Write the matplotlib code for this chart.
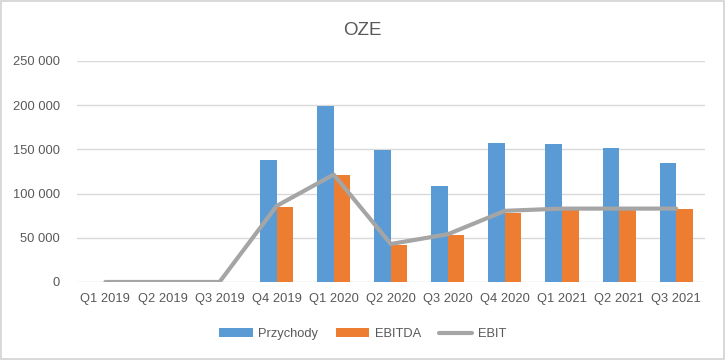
import numpy as np
import matplotlib.pyplot as plt
from matplotlib.ticker import FuncFormatter

quarters = ["Q1 2019", "Q2 2019", "Q3 2019", "Q4 2019", "Q1 2020", "Q2 2020",
            "Q3 2020", "Q4 2020", "Q1 2021", "Q2 2021", "Q3 2021"]
przychody = [0, 0, 0, 138000, 199500, 149500, 108500, 157500, 156000, 151500, 134500]
ebitda = [0, 0, 0, 85000, 121000, 42000, 53000, 78500, 81500, 81500, 82500]
ebit = [0, 0, 0, 86000, 121500, 43000, 54000, 80500, 83000, 83000, 83000]

plt.rcParams['font.family'] = ['Liberation Sans', 'DejaVu Sans']
txt = "#595959"

fig = plt.figure(figsize=(7.25, 3.6), dpi=100)
fig.patch.set_edgecolor("#D9D9D9")
fig.patch.set_linewidth(1.5)
ax = fig.add_axes([0.106, 0.2167, 0.866, 0.614])

x = np.arange(len(quarters))
w = 0.29
b1 = ax.bar(x - w / 2, przychody, w, color="#5B9BD5", label="Przychody", zorder=2)
b2 = ax.bar(x + w / 2, ebitda, w, color="#ED7D31", label="EBITDA", zorder=2)
l1, = ax.plot(x, ebit, color="#A5A5A5", lw=3, label="EBIT", zorder=3, solid_capstyle="round")

ax.set_xlim(-0.5, len(quarters) - 0.5)
ax.set_ylim(0, 250000)
ax.set_yticks(np.arange(0, 250001, 50000))
ax.yaxis.set_major_formatter(FuncFormatter(lambda v, p: f"{int(v):,}".replace(",", " ")))
ax.set_xticks(x)
ax.set_xticklabels(quarters)
ax.grid(axis="y", color="#D9D9D9", lw=1, zorder=0)
for s in ax.spines.values():
    s.set_visible(False)
ax.tick_params(length=0, labelsize=9.3, colors=txt)
ax.tick_params(axis="y", pad=12)
ax.tick_params(axis="x", pad=8)

fig.text(0.5, 0.915, "OZE", ha="center", va="center", fontsize=13.5, color=txt)
fig.legend([b1, b2, l1], ["Przychody", "EBITDA", "EBIT"], loc="center",
           bbox_to_anchor=(0.5, 0.072), ncol=3, frameon=False,
           fontsize=9.3, labelcolor=txt, handlelength=2.6, handleheight=0.6,
           columnspacing=1.4, handletextpad=0.4)

fig.savefig("out.png", dpi=100)
